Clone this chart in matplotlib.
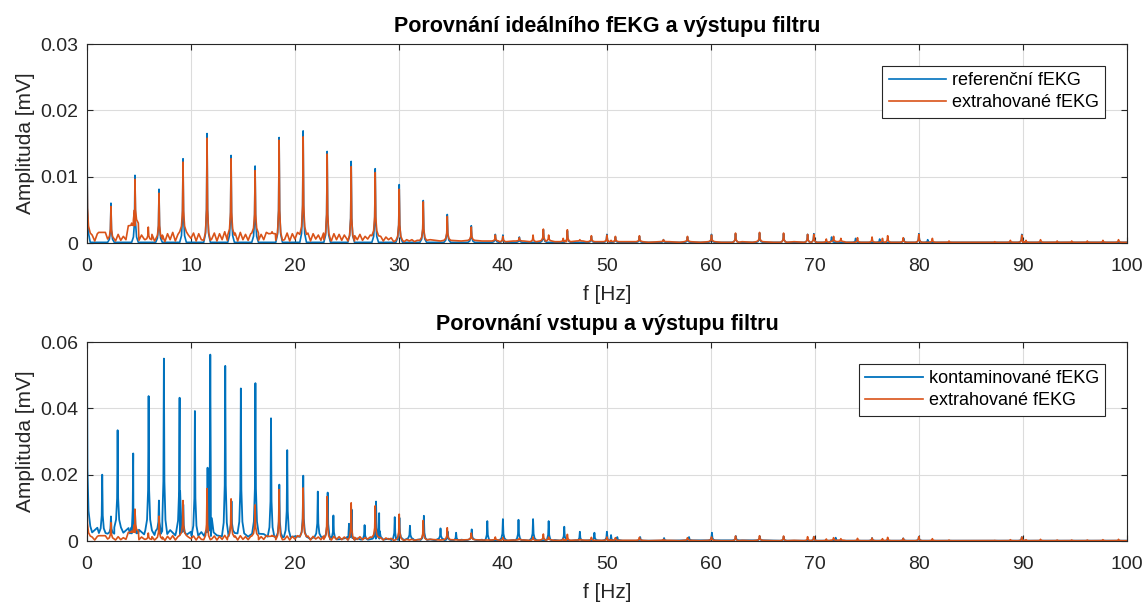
import matplotlib
matplotlib.use("Agg")
import matplotlib.pyplot as plt
import numpy as np

plt.rcParams['font.family'] = ['Liberation Sans', 'DejaVu Sans']

BLUE = '#0072BD'
ORANGE = '#D95319'

# ---- referenční fEKG (peaks, mV) ----
ref_f = [0.0, 2.31, 4.62, 6.93, 9.24, 11.55, 13.86, 16.17, 18.48, 20.79, 23.10, 25.41,
         27.72, 30.03, 32.34, 34.65, 36.96, 39.27, 40.0, 41.58, 43.89, 46.20, 48.51, 50.0,
         50.82, 53.13, 55.44, 57.75, 60.06, 62.37, 64.68, 66.99, 69.30, 69.9, 71.61,
         73.92, 76.23, 78.54, 80.0, 80.85, 89.9]
ref_a = [0.0172, 0.0060, 0.0102, 0.0081, 0.0127, 0.0165, 0.0132, 0.0116, 0.0159, 0.0169,
         0.0138, 0.0123, 0.0112, 0.0088, 0.0064, 0.0043, 0.0026, 0.0013, 0.0012, 0.0009,
         0.0020, 0.0018, 0.0010, 0.0013, 0.0009, 0.0010, 0.0005, 0.0009, 0.0013, 0.0014,
         0.0015, 0.0014, 0.0013, 0.0014, 0.0009, 0.0007, 0.0006, 0.0007, 0.0014, 0.0005,
         0.0013]
ref_floor_f = [0.6, 10.0, 30.0, 60.0, 100.0]
ref_floor_a = [0.0001, 0.0001, 0.0001, 0.0001, 0.0001]

# ---- extrahované fEKG (peaks, mV) ----
ext_f = [0.0, 1.45, 2.31, 4.30, 4.62, 5.90, 6.93, 9.24, 11.55, 13.86, 16.17, 17.80, 18.48,
         20.79, 23.10, 25.41, 27.72, 30.03, 32.34, 34.65, 36.96, 39.27, 40.0, 41.58, 42.9,
         43.89, 44.4, 45.8, 46.20, 47.4, 48.51, 50.0, 50.4, 50.82, 53.13, 55.44, 57.75,
         60.06, 62.37, 64.68, 66.99, 69.30, 69.9, 71.1, 71.8, 72.5, 74.1, 75.5, 76.5, 77.0,
         78.5, 80.0, 81.3, 82.9, 87.3, 88.8, 89.9, 90.3, 91.7, 93.3, 94.7, 96.2, 97.7, 99.2]
ext_a = [0.0142, 0.0016, 0.0055, 0.0030, 0.0096, 0.0024, 0.0075, 0.0122, 0.0158, 0.0127,
         0.0109, 0.0017, 0.0155, 0.0160, 0.0134, 0.0115, 0.0106, 0.0081, 0.0062, 0.0040,
         0.0024, 0.0012, 0.0010, 0.0008, 0.0012, 0.0021, 0.0012, 0.0007, 0.0020, 0.0005,
         0.0011, 0.0012, 0.0004, 0.0010, 0.0011, 0.0005, 0.0010, 0.0012, 0.0015, 0.0016,
         0.0015, 0.0013, 0.0013, 0.0006, 0.0010, 0.0007, 0.0008, 0.0009, 0.0007, 0.0011,
         0.0008, 0.0013, 0.0007, 0.0003, 0.0002, 0.0004, 0.0012, 0.0004, 0.0005, 0.0003,
         0.0003, 0.0003, 0.0004, 0.0005]
# noise floor of the extracted signal, 0.25 Hz steps from 0 to 32 Hz (1e-4 mV)
ext_floor_lo = [15, 4, 12, 3, 14, 5, 16, 2, 11, 6, 15, 3, 13, 4, 10, 5,
                18, 26, 30, 14, 4, 12, 6, 22, 5, 13, 3, 15, 6, 12, 2, 14,
                5, 16, 3, 13, 6, 17, 4, 12, 7, 15, 3, 14, 5, 16, 4, 13,
                6, 15, 3, 14, 5, 17, 4, 12, 6, 15, 3, 16, 5, 13, 4, 14,
                6, 15, 4, 13, 5, 16, 3, 14, 6, 17, 4, 12, 5, 15, 3, 14,
                6, 16, 4, 13, 5, 15, 3, 14, 6, 12, 4, 15, 5, 13, 3, 14,
                5, 13, 4, 12, 6, 14, 3, 11, 5, 13, 4, 10, 6, 12, 3, 11,
                4, 10, 3, 9, 5, 8, 2, 7, 4, 6, 2, 5, 3, 5, 2, 4]
# 1 Hz steps from 32 to 100 Hz (1e-4 mV)
ext_floor_hi = [4, 5, 3, 4, 3, 4, 3, 3, 2, 3, 3, 2, 3, 2, 2, 3, 2, 2, 2, 2, 2, 2, 1, 2,
                2, 1, 2, 1, 2, 1, 1, 2, 1, 2, 1, 1, 2, 1, 1, 1, 2, 1, 1, 1, 1, 1, 1, 1,
                1, 1, 1, 1, 1, 1, 1, 1, 1, 1, 1, 1, 1, 1, 1, 1, 1, 1, 1, 1, 1]
ext_floor_f = list(np.arange(0, 32, 0.25)) + list(np.arange(32, 101, 1.0))
ext_floor_a = [v * 1e-4 for v in ext_floor_lo + ext_floor_hi]

# ---- kontaminované fEKG (peaks, mV) ----
con_f = [0.0, 1.47, 2.31, 2.95, 4.45, 4.62, 5.93, 6.92, 7.40, 8.91, 9.26, 10.38, 11.60,
         11.86, 13.30, 13.90, 14.80, 16.20, 17.70, 18.50, 19.26, 20.80, 22.20, 23.15,
         23.70, 25.20, 25.45, 26.70, 27.80, 28.10, 29.60, 30.05, 31.06, 32.40, 34.00,
         34.70, 35.50, 37.00, 38.50, 40.00, 41.50, 42.90, 44.40, 45.90, 47.40, 48.80,
         50.00, 50.40, 51.00, 53.20, 55.50, 57.90, 60.10, 62.40, 64.70, 67.00, 69.90,
         72.0, 75.5, 78.5, 80.0, 89.9]
con_a = [0.0620, 0.0200, 0.0074, 0.0334, 0.0264, 0.0090, 0.0437, 0.0122, 0.0550, 0.0432,
         0.0110, 0.0392, 0.0221, 0.0562, 0.0528, 0.0120, 0.0460, 0.0476, 0.0370, 0.0170,
         0.0274, 0.0197, 0.0149, 0.0146, 0.0077, 0.0052, 0.0095, 0.0048, 0.0119, 0.0084,
         0.0072, 0.0070, 0.0046, 0.0076, 0.0038, 0.0028, 0.0025, 0.0035, 0.0060, 0.0066,
         0.0064, 0.0066, 0.0060, 0.0043, 0.0028, 0.0025, 0.0028, 0.0018, 0.0012, 0.0012,
         0.0009, 0.0012, 0.0025, 0.0015, 0.0014, 0.0013, 0.0013, 0.0010, 0.0009, 0.0008,
         0.0013, 0.0012]
# noise floor of the contaminated signal, 0.5 Hz steps from 0 to 52 Hz (1e-4 mV)
con_floor_lo = [45, 26, 40, 24, 38, 22, 41, 25, 39, 23,
                34, 20, 32, 18, 30, 21, 33, 17, 29, 19,
                28, 16, 27, 15, 26, 17, 25, 14, 24, 16,
                23, 13, 22, 12, 21, 13, 20, 11, 19, 12,
                14, 7, 13, 6, 12, 7, 11, 5, 10, 6,
                9, 4, 8, 4, 8, 3, 7, 4, 7, 3,
                6, 3, 6, 2, 5, 3, 5, 2, 5, 2,
                4, 2, 4, 2, 4, 2, 4, 1, 3, 2,
                3, 1, 3, 2, 3, 1, 3, 1, 3, 1,
                3, 1, 2, 1, 2, 1, 2, 1, 2, 1,
                2, 1, 2, 1]
con_floor_f = list(np.arange(0, 52, 0.5)) + [60.0, 70.0, 80.0, 90.0, 100.0]
con_floor_a = [v * 1e-4 for v in con_floor_lo + [2, 1, 1, 1, 1]]

# spike shape (drawing only): offsets in Hz and share of the peak height
OFFS = np.array([-0.32, -0.15, -0.05, 0.0, 0.05, 0.15, 0.32])
FRAC = np.array([0.0, 0.08, 0.3, 1.0, 0.3, 0.08, 0.0])
GAP = 0.32


def trace(pf, pa, ff, fa):
    ff = np.asarray(ff, float)
    fa = np.asarray(fa, float)
    keep = np.ones(len(ff), bool)
    xs, ys = [], []
    for f, a in zip(pf, pa):
        keep &= np.abs(ff - f) > GAP
        b = fa[np.argmin(np.abs(ff - f))]
        xs += list(f + OFFS)
        ys += list(b + FRAC * (a - b))
    xs += list(ff[keep])
    ys += list(fa[keep])
    xs = np.array(xs)
    ys = np.array(ys)
    o = np.argsort(xs, kind='stable')
    xs, ys = xs[o], ys[o]
    m = xs >= 0
    return xs[m], ys[m]


def style(ax, ymax, step, title):
    ax.set_xlim(0, 100)
    ax.set_ylim(0, ymax)
    ax.set_xticks(np.arange(0, 101, 10))
    ax.set_yticks(np.arange(0, ymax + 1e-9, step))
    ax.set_yticklabels(['0'] + ['%g' % v for v in np.arange(step, ymax + 1e-9, step)])
    ax.grid(True, color='#dcdcdc', linewidth=0.8)
    ax.set_axisbelow(True)
    ax.tick_params(direction='in', length=4, top=True, right=True,
                   labelsize=14, colors='#262626', width=0.8)
    ax.tick_params(axis='x', pad=11)
    ax.tick_params(axis='y', pad=6)
    for s in ax.spines.values():
        s.set_color('#262626')
        s.set_linewidth(0.8)
    ax.set_xlabel('f [Hz]', fontsize=15, color='#262626', labelpad=7)
    ax.set_ylabel('Amplituda [mV]', fontsize=15, color='#262626', labelpad=4)
    ax.set_title(title, fontsize=15.5, fontweight='bold', pad=9)


fig = plt.figure(figsize=(11.44, 6.03), dpi=100)
ax1 = fig.add_axes([0.0760, 0.597, 0.909, 0.330])
ax2 = fig.add_axes([0.0760, 0.1028, 0.909, 0.330])

x, y = trace(ref_f, ref_a, ref_floor_f, ref_floor_a)
ax1.plot(x, y, color=BLUE, lw=1.2, label='referenční fEKG')
x, y = trace(ext_f, ext_a, ext_floor_f, ext_floor_a)
ax1.plot(x, y, color=ORANGE, lw=1.2, label='extrahované fEKG')
style(ax1, 0.03, 0.01, 'Porovnání ideálního fEKG a výstupu filtru')

x, y = trace(con_f, con_a, con_floor_f, con_floor_a)
ax2.plot(x, y, color=BLUE, lw=1.3, label='kontaminované fEKG')
x, y = trace(ext_f, ext_a, ext_floor_f, ext_floor_a)
ax2.plot(x, y, color=ORANGE, lw=1.2, label='extrahované fEKG')
style(ax2, 0.06, 0.02, 'Porovnání vstupu a výstupu filtru')

for ax in (ax1, ax2):
    leg = ax.legend(loc='upper right', fontsize=13, frameon=True, fancybox=False,
                    framealpha=1, edgecolor='#262626', handlelength=3.2,
                    handletextpad=0.3, labelspacing=0.3, borderaxespad=1.2,
                    borderpad=0.35)
    leg.get_frame().set_linewidth(0.8)

fig.savefig('out.png', dpi=100)
